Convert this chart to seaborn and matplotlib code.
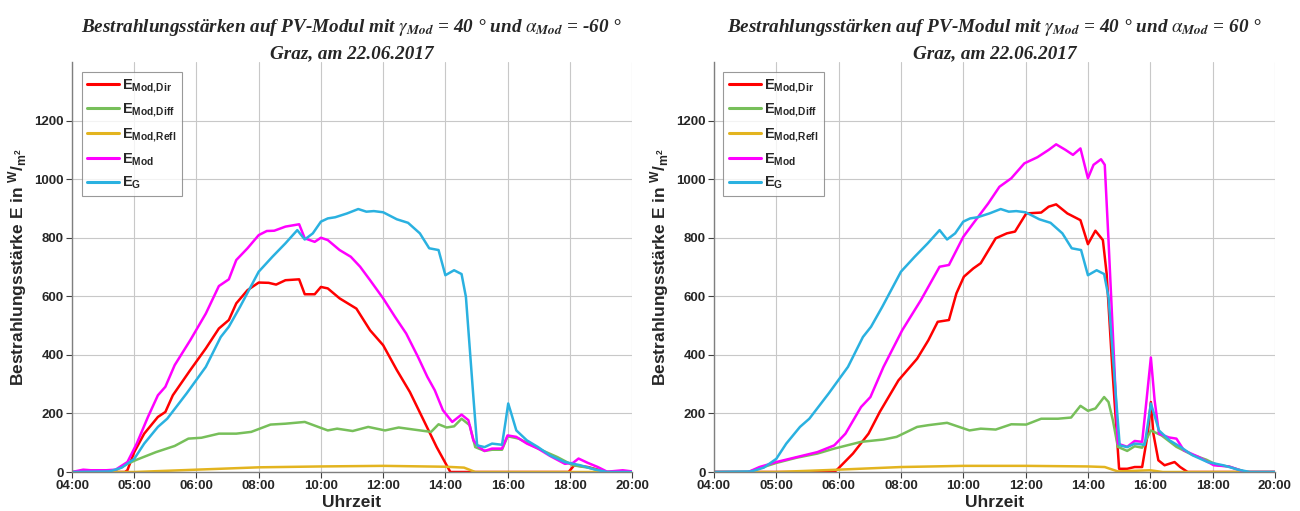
import matplotlib
matplotlib.use("Agg")
import matplotlib.pyplot as plt
import seaborn as sns
import pandas as pd
from matplotlib.font_manager import FontProperties

# ---------------- data (x = tick position index, 0..9) ----------------
tick_labels = ['04:00', '05:00', '06:00', '08:00', '10:00', '12:00', '14:00', '16:00', '18:00', '20:00']
y_ticks = [0, 200, 400, 600, 800, 1000, 1200]

# global irradiance (same in both panels)
g_x = [0, 0.6, 0.8, 1.0, 1.16, 1.38, 1.53, 1.84, 2.15, 2.39, 2.52, 2.70, 3.0, 3.22, 3.43, 3.62, 3.74, 3.87,
       4.0, 4.11, 4.23, 4.42, 4.6, 4.73, 4.85, 5.0, 5.22, 5.40, 5.59, 5.74, 5.89, 6.0, 6.14, 6.26, 6.33, 6.39,
       6.45, 6.51, 6.63, 6.75, 6.91, 6.97, 7.01, 7.06, 7.14, 7.31, 7.49, 7.68, 7.92, 8.17, 8.41, 8.6, 9.0]
g_y = [0, 2, 15, 45, 97, 154, 182, 268, 359, 461, 496, 564, 684, 735, 781, 826, 794, 815,
       855, 866, 870, 883, 898, 889, 891, 887, 863, 851, 815, 764, 758, 672, 689, 676, 598, 427,
       256, 91, 85, 97, 93, 176, 234, 199, 142, 108, 85, 57, 34, 23, 8, 0, 0]

# left panel (alpha = -60 deg)
l_mod_x = [0, 0.18, 0.3, 0.55, 0.7, 0.89, 1.04, 1.22, 1.38, 1.50, 1.65, 1.90, 2.15, 2.36, 2.52, 2.64, 2.82,
           3.0, 3.13, 3.25, 3.43, 3.65, 3.74, 3.90, 4.0, 4.11, 4.3, 4.48, 4.63, 4.79, 5.0, 5.19, 5.37, 5.56,
           5.71, 5.83, 5.96, 6.11, 6.26, 6.37, 6.45, 6.54, 6.63, 6.75, 6.91, 7.0, 7.14, 7.31, 7.49, 7.68,
           7.92, 8.05, 8.14, 8.29, 8.45, 8.6, 8.85, 9.0]
l_mod_y = [0, 8, 6, 6, 8, 34, 97, 188, 262, 291, 365, 450, 541, 635, 658, 724, 764,
           809, 823, 824, 838, 846, 798, 786, 800, 792, 758, 735, 701, 655, 593, 530, 473, 393,
           325, 279, 211, 171, 196, 177, 108, 85, 72, 80, 80, 125, 120, 97, 80, 55,
           28, 31, 46, 31, 17, 1, 6, 2]

l_dir_x = [0, 0.85, 0.89, 1.0, 1.16, 1.38, 1.50, 1.62, 1.90, 2.15, 2.36, 2.52, 2.64, 2.82, 3.0, 3.16, 3.28,
           3.43, 3.65, 3.74, 3.90, 4.0, 4.11, 4.3, 4.57, 4.79, 5.0, 5.22, 5.43, 5.65, 5.86, 6.08, 7.98,
           8.07, 8.29, 8.54, 8.6, 9.0]
l_dir_y = [0, 0, 6, 68, 131, 188, 205, 262, 348, 422, 490, 519, 576, 621, 647, 646, 640,
           655, 658, 607, 607, 632, 627, 593, 558, 484, 433, 348, 273, 177, 85, 0, 0,
           23, 17, 3, 0, 0]

l_diff_x = [0, 0.65, 0.89, 1.04, 1.35, 1.65, 1.87, 2.08, 2.36, 2.64, 2.88, 3.19, 3.43, 3.74, 4.11, 4.26,
            4.51, 4.76, 5.03, 5.25, 5.49, 5.77, 5.89, 6.02, 6.14, 6.26, 6.39, 6.48, 6.63, 6.75, 6.91, 7.0,
            7.18, 7.49, 7.80, 8.05, 8.29, 8.54, 8.6, 9.0]
l_diff_y = [0, 0, 28, 42, 68, 89, 114, 117, 131, 131, 137, 162, 165, 171, 142, 148,
            140, 154, 142, 152, 145, 137, 163, 152, 156, 182, 160, 85, 72, 76, 76, 122,
            114, 80, 51, 23, 15, 2, 0, 0]

l_refl_x = [0, 1.0, 2.0, 3.0, 4.0, 5.0, 6.0, 6.3, 6.48, 9.0]
l_refl_y = [0, 0, 8, 16, 19, 21, 18, 15, 0, 0]

# right panel (alpha = 60 deg)
r_mod_x = [0, 0.55, 0.73, 1.0, 1.33, 1.66, 1.93, 2.11, 2.36, 2.51, 2.72, 3.02, 3.32, 3.62, 3.77, 4.0, 4.16,
           4.40, 4.58, 4.77, 4.98, 5.19, 5.37, 5.49, 5.64, 5.76, 5.88, 6.0, 6.09, 6.21, 6.27, 6.33, 6.40,
           6.48, 6.63, 6.75, 6.87, 6.94, 7.01, 7.07, 7.14, 7.30, 7.42, 7.54, 7.78, 8.02, 8.26, 8.53, 9.0]
r_mod_y = [0, 0, 17, 34, 51, 68, 91, 131, 222, 256, 359, 484, 587, 701, 707, 803, 849,
           917, 974, 1003, 1054, 1075, 1100, 1119, 1100, 1083, 1105, 1003, 1049, 1068, 1049, 792, 473,
           97, 86, 106, 103, 245, 391, 245, 131, 118, 114, 74, 51, 23, 19, 0, 0]

r_dir_x = [0, 1.93, 1.99, 2.23, 2.48, 2.66, 2.96, 3.26, 3.44, 3.59, 3.77, 3.89, 4.01, 4.16, 4.28, 4.52,
           4.70, 4.83, 5.01, 5.25, 5.37, 5.49, 5.67, 5.88, 6.0, 6.12, 6.24, 6.30, 6.39, 6.50, 6.63, 6.75,
           6.87, 6.96, 7.01, 7.05, 7.13, 7.23, 7.39, 7.48, 7.60, 9.0]
r_dir_y = [0, 0, 11, 63, 131, 205, 313, 387, 450, 513, 519, 610, 667, 695, 713, 798,
           815, 821, 883, 886, 906, 914, 883, 860, 778, 824, 792, 678, 359, 11, 11, 17,
           17, 131, 239, 131, 40, 23, 34, 17, 0, 0]

r_diff_x = [0, 0.55, 1.0, 1.33, 1.66, 1.93, 2.36, 2.72, 2.93, 3.26, 3.44, 3.74, 4.10, 4.28, 4.52, 4.77,
            5.01, 5.25, 5.52, 5.73, 5.88, 6.0, 6.12, 6.26, 6.33, 6.40, 6.48, 6.63, 6.75, 6.87, 7.01, 7.18,
            7.42, 7.66, 7.90, 8.08, 8.26, 8.53, 9.0]
r_diff_y = [0, 0, 31, 49, 63, 80, 103, 111, 120, 154, 160, 168, 142, 148, 145, 163,
            162, 182, 182, 186, 226, 209, 217, 256, 239, 177, 86, 72, 88, 83, 142, 125,
            86, 60, 42, 23, 19, 0, 0]

r_refl_x = [0, 1.0, 2.0, 3.0, 4.0, 5.0, 6.0, 6.27, 6.48, 7.0, 7.2, 9.0]
r_refl_y = [0, 0, 8, 17, 21, 21, 19, 17, 2, 6, 0, 0]

series_names = [r'$\mathbf{E_{Mod{,}Dir}}$', r'$\mathbf{E_{Mod{,}Diff}}$', r'$\mathbf{E_{Mod{,}Refl}}$',
                r'$\mathbf{E_{Mod}}$', r'$\mathbf{E_G}$']
series_colors = ['#FF0000', '#77BF5A', '#E3B41F', '#FF00FF', '#2AB1E0']

titles_line1 = [r'Bestrahlungsstärken auf PV-Modul mit $\gamma_{\mathbfit{Mod}}$ = 40 ° und $\alpha_{\mathbfit{Mod}}$ = -60 °',
                r'Bestrahlungsstärken auf PV-Modul mit $\gamma_{\mathbfit{Mod}}$ = 40 ° und $\alpha_{\mathbfit{Mod}}$ = 60 °']
title_line2 = 'Graz, am 22.06.2017'

# ---------------- styling ----------------
sns.set_style("white")
plt.rcParams['font.family'] = ['Liberation Sans', 'DejaVu Sans']
plt.rcParams['mathtext.fontset'] = 'custom'
plt.rcParams['mathtext.rm'] = 'Liberation Sans:bold'
plt.rcParams['mathtext.bf'] = 'Liberation Sans:bold'
plt.rcParams['mathtext.it'] = 'Liberation Sans:italic:bold'

fig = plt.figure(figsize=(13, 5.11), dpi=100)
ax_l = fig.add_axes([0.0554, 0.0763, 0.4308, 0.8023])
ax_r = fig.add_axes([0.5492, 0.0763, 0.4315, 0.8023])

panels = [
    (ax_l, [(l_dir_x, l_dir_y), (l_diff_x, l_diff_y), (l_refl_x, l_refl_y), (l_mod_x, l_mod_y), (g_x, g_y)]),
    (ax_r, [(r_dir_x, r_dir_y), (r_diff_x, r_diff_y), (r_refl_x, r_refl_y), (r_mod_x, r_mod_y), (g_x, g_y)]),
]

title_fp = FontProperties(family='Liberation Serif', weight='bold', style='italic', size=13.8,
                          math_fontfamily='stix')

for i, (ax, data) in enumerate(panels):
    for (xs, ys), name, col in zip(data, series_names, series_colors):
        df = pd.DataFrame({'x': xs, 'y': ys})
        sns.lineplot(data=df, x='x', y='y', ax=ax, color=col, lw=1.8, label=name,
                     estimator=None, sort=False)
    ax.set_xlim(0, 9)
    ax.set_ylim(0, 1400)
    ax.set_xticks(range(len(tick_labels)))
    ax.set_xticklabels(tick_labels)
    ax.set_yticks(y_ticks)
    ax.grid(True, color='#c8c8c8', lw=0.8)
    ax.set_axisbelow(True)
    for s in ['top', 'right']:
        ax.spines[s].set_visible(False)
    for s in ['left', 'bottom']:
        ax.spines[s].set_color('#7f7f7f')
        ax.spines[s].set_linewidth(1.0)
    ax.tick_params(axis='both', which='both', direction='out', length=4, width=0.8,
                   color='#404040', labelsize=9.5, pad=2, left=True, bottom=True)
    for lab in ax.get_xticklabels() + ax.get_yticklabels():
        lab.set_fontweight('bold')
    ax.set_xlabel('Uhrzeit', fontsize=12.5, fontweight='bold', labelpad=2)
    ax.set_ylabel(r'Bestrahlungsstärke E in $^{\mathbf{W}}/_{\mathbf{m^{2}}}$', fontsize=12.5,
                  fontweight='bold', labelpad=4)
    leg = ax.legend(loc='upper left', bbox_to_anchor=(0.017, 0.975), frameon=True, fancybox=False,
                    edgecolor='#808080', fontsize=10.5, handlelength=2.2, handletextpad=0.25,
                    labelspacing=0.5, borderpad=0.35, borderaxespad=0.0)
    leg.get_frame().set_linewidth(0.8)
    for line in leg.get_lines():
        line.set_linewidth(2.2)
    pos = ax.get_position()
    cx = (pos.x0 + pos.x1) / 2
    fig.text(cx, 1 - 32.5 / 511, titles_line1[i], ha='center', va='baseline', fontproperties=title_fp)
    fig.text(cx, 1 - 58 / 511, title_line2, ha='center', va='baseline', fontproperties=title_fp)

fig.savefig('out.png', dpi=100)
